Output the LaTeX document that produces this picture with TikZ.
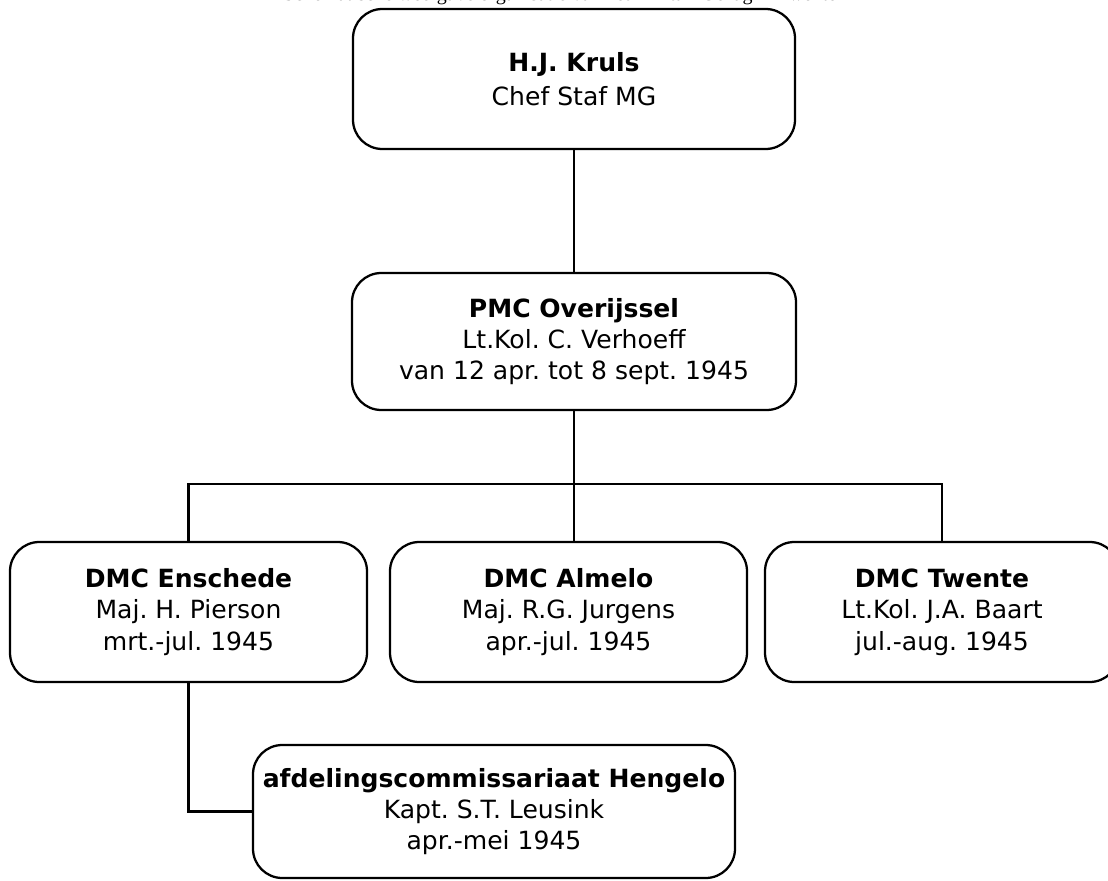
\documentclass[tikz,border=0pt]{standalone}
\usepackage{fontspec}
\setmainfont{DejaVu Sans}
\newfontfamily\titlefont{Liberation Serif}
\frenchspacing
\begin{document}
\begin{tikzpicture}[x=0.75pt,y=-0.75pt,
  box/.style={draw,line width=1.7pt,rounded corners=22pt,align=center,inner sep=0pt,
    font=\fontsize{18.8}{23.5}\selectfont},
  conn/.style={line width=1.7pt},
  ttl/.style={font=\titlefont\fontsize{15}{18}\selectfont,anchor=base,inner sep=0pt}]
\useasboundingbox (0,0) rectangle (1108,881);
\clip (0,0) rectangle (1108,881);
\node[ttl] (title) at (560,1) {Schematische weergave organisatie van het Militair Gezag in Twente};
\node[box,minimum width=331.5pt,minimum height=105pt,font=\fontsize{18.8}{25.5}\selectfont] (top) at (574,79)
  {\textbf{H.J. Kruls}\\Chef Staf MG};
\node[box,minimum width=333pt,minimum height=102.75pt] (pmc) at (574,341.5)
  {\textbf{PMC Overijssel}\\Lt.Kol. C. Verhoeff\\van 12 apr. tot 8 sept. 1945};
\node[box,minimum width=267.75pt,minimum height=105pt] (ens) at (188.5,612)
  {\textbf{DMC Enschede}\\Maj. H. Pierson\\mrt.-jul. 1945};
\node[box,minimum width=267.75pt,minimum height=105pt] (alm) at (568.5,612)
  {\textbf{DMC Almelo}\\Maj. R.G. Jurgens\\apr.-jul. 1945};
\node[box,minimum width=265.5pt,minimum height=105pt] (twe) at (942,612)
  {\textbf{DMC Twente}\\Lt.Kol. J.A. Baart\\jul.-aug. 1945};
\node[box,minimum width=361.5pt,minimum height=99.75pt] (hen) at (494,811.5)
  {\textbf{afdelingscommissariaat Hengelo}\\Kapt. S.T. Leusink\\apr.-mei 1945};
\coordinate (bus) at (574,484);
\draw[conn] (top.south) -- (pmc.north);
\draw[conn] (pmc.south) -- (bus);
\draw[conn] (ens.north) |- (bus) -| (twe.north);
\draw[conn] (bus) -- (bus |- alm.north);
\draw[conn] (ens.south) |- (hen.west);
\end{tikzpicture}
\end{document}
